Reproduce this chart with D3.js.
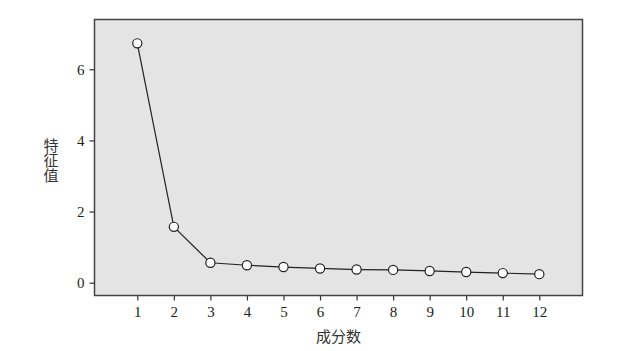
<!DOCTYPE html>
<html><head><meta charset="utf-8">
<script src="https://cdn.jsdelivr.net/npm/d3@7"></script>
<style>body{margin:0;background:#fff}svg{display:block}</style>
</head><body>
<script>
const components = [1,2,3,4,5,6,7,8,9,10,11,12];
const eigenvalues = [6.73,1.57,0.56,0.49,0.44,0.40,0.37,0.36,0.33,0.30,0.27,0.24];
const yTicks = [0,2,4,6];
const xTitle = "成分数";
const yTitle = "特征值";

const W=618,H=351;
const L=94.5,R=582.5,T=19.5,B=295.5;
const svg=d3.select("body").append("svg").attr("width",W).attr("height",H);
const x=d3.scaleLinear().domain([1,12]).range([137.3,539.3]);
const y=d3.scaleLinear().domain([0,6]).range([282.7,69.3]);

svg.append("rect").attr("x",L).attr("y",T).attr("width",R-L).attr("height",B-T)
  .attr("fill","#e4e4e4").attr("stroke","#444").attr("stroke-width",1.5);

const fontSerif="'Liberation Serif','DejaVu Serif',serif";
const yAxis=svg.append("g").attr("transform",`translate(${L},0)`)
  .call(d3.axisLeft(y).tickValues(yTicks).tickFormat(d3.format("d")).tickSize(5).tickPadding(5));
const xAxis=svg.append("g").attr("transform",`translate(0,${B})`)
  .call(d3.axisBottom(x).tickValues(components).tickFormat(d3.format("d")).tickSize(5).tickPadding(6));
[xAxis,yAxis].forEach(g=>{
  g.select(".domain").remove();
  g.selectAll(".tick line").attr("stroke","#333").attr("stroke-width",1.2);
  g.selectAll(".tick text").attr("font-family",fontSerif).attr("font-size",15).attr("fill","#222");
});

const line=d3.line().x((d,i)=>x(components[i])).y(d=>y(d));
svg.append("path").datum(eigenvalues).attr("d",line).attr("fill","none").attr("stroke","#222").attr("stroke-width",1.2);
svg.selectAll("circle.pt").data(eigenvalues).enter().append("circle")
  .attr("cx",(d,i)=>x(components[i])).attr("cy",d=>y(d)).attr("r",4.6)
  .attr("fill","#fff").attr("stroke","#222").attr("stroke-width",1.2);

svg.append("text").attr("x",(L+R)/2).attr("y",342).attr("text-anchor","middle")
  .attr("font-family","'Noto Sans CJK SC'").attr("font-size",15).attr("fill","#333").text(xTitle);
svg.append("text").attr("x",51).attr("y",160.5).attr("text-anchor","middle")
  .style("writing-mode","vertical-rl").style("text-orientation","upright")
  .attr("font-family","'Noto Sans CJK SC'").attr("font-size",15).attr("fill","#333").text(yTitle);
</script>
</body></html>
